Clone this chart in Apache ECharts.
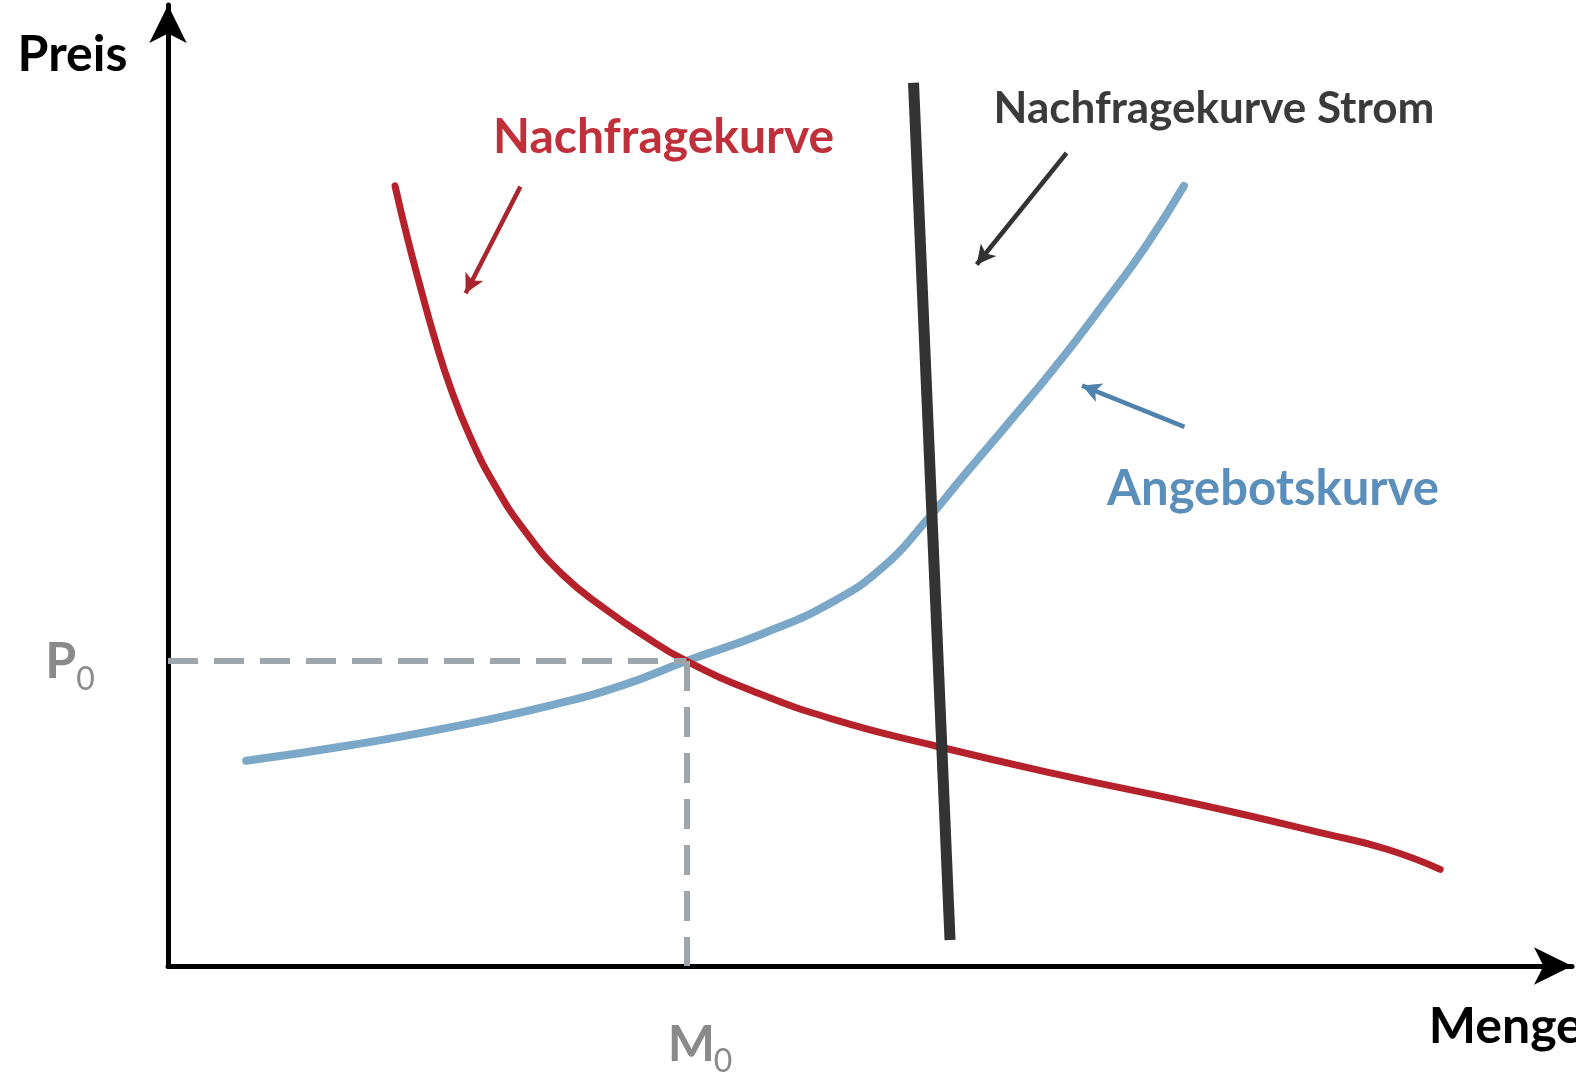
<!DOCTYPE html>
<html>
<head>
<meta charset="utf-8">
<title>Preis / Menge</title>
<script src="https://cdn.jsdelivr.net/npm/echarts@6/dist/echarts.min.js"></script>
<style>
  html, body { margin: 0; padding: 0; background: #fff; }
  #chart { width: 1576px; height: 1073px; }
</style>
</head>
<body>
<div id="chart"></div>
<script>
// Werte (Menge 0..100, Preis 0..100)
const nachfrage = [
  [16.17, 81.18], [17.02, 75.94], [17.96, 70.72], [18.96, 65.48], [20.10, 60.26],
  [21.53, 55.03], [23.25, 50.11], [25.40, 45.31], [28.12, 40.70], [31.34, 36.94],
  [33.85, 34.42], [36.92, 31.74], [41.72, 28.57], [47.45, 25.64], [54.61, 22.92],
  [63.20, 19.99], [73.93, 16.65], [82.52, 13.72], [86.82, 12.15], [90.61, 10.06]
];
const angebot = [
  [5.57, 21.35], [13.09, 23.00], [20.25, 24.88], [27.41, 27.18], [32.41, 29.23],
  [36.92, 31.74], [42.44, 34.63], [47.45, 37.98], [51.03, 41.64], [53.89, 46.14],
  [56.76, 51.16], [59.62, 56.08], [63.20, 62.35], [66.77, 69.15], [69.64, 74.90],
  [72.36, 81.18]
];
const nachfrageStrom = [[53.1, 91.9], [55.7, 2.7]];
const gleichgewicht = [36.92, 31.74]; // M0 / P0

// Pfeile: [von, nach]
const pfeilNachfrage = [[25.1, 81.1], [21.2, 70.0]];
const pfeilStrom = [[64.0, 84.6], [57.6, 73.0]];
const pfeilAngebot = [[72.4, 56.1], [65.1, 60.4]];

const fontFam = 'Lato, "Open Sans", sans-serif';

let chart = echarts.init(document.getElementById('chart'));

function arrowLine (pts, color) {
  return {
    silent: true,
    symbol: ['none', 'arrow'],
    symbolSize: [15, 19],
    label: { show: false },
    lineStyle: { color: color, width: 4.5, type: 'solid' },
    data: [[{ coord: pts[0] }, { coord: pts[1] }]]
  };
}

let axisCommon = {
  type: 'value',
  min: 0,
  max: 100,
  axisLine: {
    show: true,
    symbol: ['none', 'arrow'],
    symbolSize: [28, 38],
    lineStyle: { color: '#000', width: 5 }
  },
  axisTick: { show: false },
  axisLabel: { show: false },
  splitLine: { show: false }
};

let option = {
  animation: false,
  backgroundColor: '#ffffff',
  grid: { left: 168, right: 4, top: 5, bottom: 107 },
  xAxis: axisCommon,
  yAxis: axisCommon,
  series: [
    {
      // gestrichelte Hilfslinien zum Gleichgewicht
      name: 'hilfslinien',
      type: 'line',
      data: [],
      markLine: {
        silent: true,
        symbol: 'none',
        label: { show: false },
        lineStyle: { color: '#9ea6ad', width: 6, type: [30, 16] },
        data: [
          [{ coord: [0, gleichgewicht[1]] }, { coord: gleichgewicht }],
          [{ coord: gleichgewicht }, { coord: [gleichgewicht[0], 0] }]
        ]
      }
    },
    {
      name: 'Angebotskurve',
      type: 'line',
      smooth: 0.5,
      showSymbol: false,
      data: angebot,
      lineStyle: { color: '#7ba8c8', width: 8, cap: 'round' },
      markLine: arrowLine(pfeilAngebot, '#4f82ad')
    },
    {
      name: 'Nachfragekurve',
      type: 'line',
      smooth: 0.5,
      showSymbol: false,
      data: nachfrage,
      lineStyle: { color: '#b5222b', width: 7, cap: 'round' },
      markLine: arrowLine(pfeilNachfrage, '#a8262e')
    },
    {
      name: 'Nachfragekurve Strom',
      type: 'line',
      showSymbol: false,
      data: nachfrageStrom,
      lineStyle: { color: '#333333', width: 11 },
      markLine: arrowLine(pfeilStrom, '#333333')
    }
  ]
};
chart.setOption(option);

// Beschriftungen an Datenkoordinaten
function px (pt) {
  return chart.convertToPixel({ gridIndex: 0 }, pt);
}
function text (pt, content, style, align) {
  let p = px(pt);
  return {
    type: 'text',
    x: p[0],
    y: p[1],
    silent: true,
    style: Object.assign({
      text: content,
      align: align || 'center',
      verticalAlign: 'middle',
      fontFamily: fontFam,
      fontWeight: 'bold'
    }, style)
  };
}
// Buchstabe mit tiefgestellter Ziffer (P0, M0)
function indexed (pt, main, sub, subDx) {
  let p = px(pt);
  let st = { fontFamily: fontFam, fill: '#8a8a8a', verticalAlign: 'middle', align: 'left' };
  return {
    type: 'group',
    x: p[0],
    y: p[1],
    silent: true,
    children: [
      { type: 'text', style: Object.assign({ text: main, fontSize: 50, fontWeight: 'bold' }, st) },
      { type: 'text', x: subDx, y: 17, style: Object.assign({ text: sub, fontSize: 32 }, st) }
    ]
  };
}

chart.setOption({
  graphic: [
    text([-6.8, 94.8], 'Preis', { fontSize: 50, fill: '#000' }),
    text([89.8, -6.3], 'Menge', { fontSize: 50, fill: '#000' }, 'left'),
    text([35.3, 86.2], 'Nachfragekurve', { fontSize: 48, fill: '#c0303a' }),
    text([74.5, 89.2], 'Nachfragekurve Strom', { fontSize: 44, fill: '#3a3a3a' }),
    text([78.7, 49.6], 'Angebotskurve', { fontSize: 49, fill: '#5b8fbb' }),
    indexed([-8.75, 31.6], 'P', '0', 31),
    indexed([35.6, -8.2], 'M', '0', 46)
  ]
});
</script>
</body>
</html>
